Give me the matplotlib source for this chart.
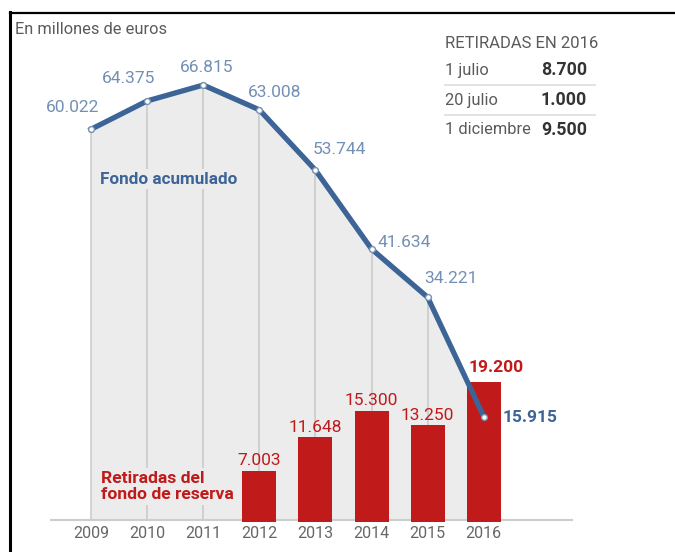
import matplotlib
matplotlib.use("Agg")
import matplotlib.pyplot as plt
from matplotlib.lines import Line2D

plt.rcParams['font.family'] = ['Roboto', 'DejaVu Sans']

# Data (millones de euros)
years = ["2009", "2010", "2011", "2012", "2013", "2014", "2015", "2016"]
fondo = [60.022, 64.375, 66.815, 63.008, 53.744, 41.634, 34.221, 15.915]
fondo_labels = ["60.022", "64.375", "66.815", "63.008", "53.744", "41.634", "34.221", "15.915"]
retiradas_years = ["2012", "2013", "2014", "2015", "2016"]
retiradas = [7.003, 11.648, 15.300, 13.250, 19.200]
retiradas_labels = ["7.003", "11.648", "15.300", "13.250", "19.200"]

tabla_fechas = ["1 julio", "20 julio", "1 diciembre"]
tabla_importes = ["8.700", "1.000", "9.500"]

BLUE = "#3c6496"
BLUE_LIGHT = "#7390b4"
RED = "#c01a1a"
FILL = "#ececec"
VLINE = "#c8c8c8"
GRAY_TXT = "#5a5a5a"

W, H = 675, 552
fig = plt.figure(figsize=(W / 100, H / 100), dpi=100)
fig.patch.set_facecolor("white")

def px_rect(x0, y0, x1, y1):
    return [x0 / W, 1 - y1 / H, (x1 - x0) / W, (y1 - y0) / H]

rect = px_rect(50, 20, 573, 521.5)
ax_bg = fig.add_axes(rect)
ax_bar = fig.add_axes(rect)
ax_line = fig.add_axes(rect)

xpos = list(range(len(years)))
xbar = [years.index(y) for y in retiradas_years]
xlim = (-0.731, 8.59)
line_ylim = (-0.2, 76.8)
bar_ylim = (0, 69.2)

for a in (ax_bg, ax_bar, ax_line):
    a.set_xlim(*xlim)
    a.patch.set_alpha(0)
    for s in a.spines.values():
        s.set_visible(False)
    a.set_yticks([])
    a.tick_params(length=0)

ax_bg.set_ylim(*line_ylim)
ax_line.set_ylim(*line_ylim)
ax_bar.set_ylim(*bar_ylim)

# Background area under the fund curve and year guides
ax_bg.fill_between(xpos, 0, fondo, color=FILL, lw=0, zorder=1)
ax_bg.vlines(xpos, 0, fondo, color=VLINE, lw=1.1, zorder=2)
ax_bg.axhline(0, color="#cdcdcd", lw=1.5, zorder=3)
ax_bg.set_xticks(xpos)
ax_bg.set_xticklabels(years, color="#666666", fontsize=11.5)
ax_bg.tick_params(axis="x", pad=3)
ax_bar.set_xticks([])
ax_line.set_xticks([])

# Bars: withdrawals from the reserve fund
ax_bar.bar(xbar, retiradas, width=0.605, color=RED, zorder=2)
for i, (xb, v, lab) in enumerate(zip(xbar, retiradas, retiradas_labels)):
    last = i == len(retiradas) - 1
    dx, dy = (12, 10) if last else (0, 5.5)
    ax_bar.annotate(lab, (xb, v), xytext=(dx * 0.72, dy * 0.72), textcoords="offset points",
                    ha="center", va="baseline", color=RED, fontsize=12.5,
                    fontweight="bold" if last else "normal")

# Fund line
ax_line.plot(xpos, fondo, color=BLUE, lw=3.8, solid_joinstyle="round", zorder=3)
ax_line.plot(xpos, fondo, ls="none", marker="o", ms=4.2, mfc="white", mec=BLUE_LIGHT,
             mew=1.0, zorder=4)

offsets_px = [(-18, 21.5), (-19, 22.5), (3, 17.5), (15, 17), (24, 21), (33, 7), (23, 19), (46, -1)]
for i, (v, lab, (dx, dy)) in enumerate(zip(fondo, fondo_labels, offsets_px)):
    last = i == len(fondo) - 1
    ax_line.annotate(lab, (xpos[i], v), xytext=(dx * 0.72, dy * 0.72), textcoords="offset points",
                     ha="center", va="center", fontsize=12.5,
                     color=BLUE if last else BLUE_LIGHT,
                     fontweight="bold" if last else "normal")

# Series labels
fig.text(100 / W, 1 - 179 / H, "Fondo acumulado", color=BLUE, fontsize=12.3, fontweight="bold",
         ha="left", va="center",
         bbox=dict(boxstyle="square,pad=0.15", fc=FILL, ec="none"))
fig.text(101 / W, 1 - 486.5 / H, "Retiradas del\nfondo de reserva", color=RED, fontsize=12.6,
         fontweight="bold", ha="left", va="center", linespacing=1.1,
         bbox=dict(boxstyle="square,pad=0.15", fc=FILL, ec="none"))

# Header
fig.text(15 / W, 1 - 30 / H, "En millones de euros", color=GRAY_TXT, fontsize=11.8,
         ha="left", va="center")

# Table of 2016 withdrawals
fig.text(445 / W, 1 - 44 / H, "RETIRADAS EN 2016", color=GRAY_TXT, fontsize=12,
         ha="left", va="center")
row_y = [70, 100, 130]
for fecha, imp, ry in zip(tabla_fechas, tabla_importes, row_y):
    fig.text(445 / W, 1 - ry / H, fecha, color=GRAY_TXT, fontsize=11.8, ha="left", va="center")
    fig.text(587 / W, 1 - ry / H, imp, color="#333333", fontsize=12.8, fontweight="bold",
             ha="right", va="center")
for sy in (84.5, 114.5):
    fig.add_artist(Line2D([445 / W, 595 / W], [1 - sy / H, 1 - sy / H], color="#dddddd", lw=1.2))

# Frame lines
fig.add_artist(Line2D([9.5 / W, 1], [1 - 13 / H, 1 - 13 / H], color="black", lw=1.6))
fig.add_artist(Line2D([9.5 / W, 9.5 / W], [0, 1 - 12 / H], color="black", lw=2.2))

fig.savefig("out.png", dpi=100, facecolor="white")
